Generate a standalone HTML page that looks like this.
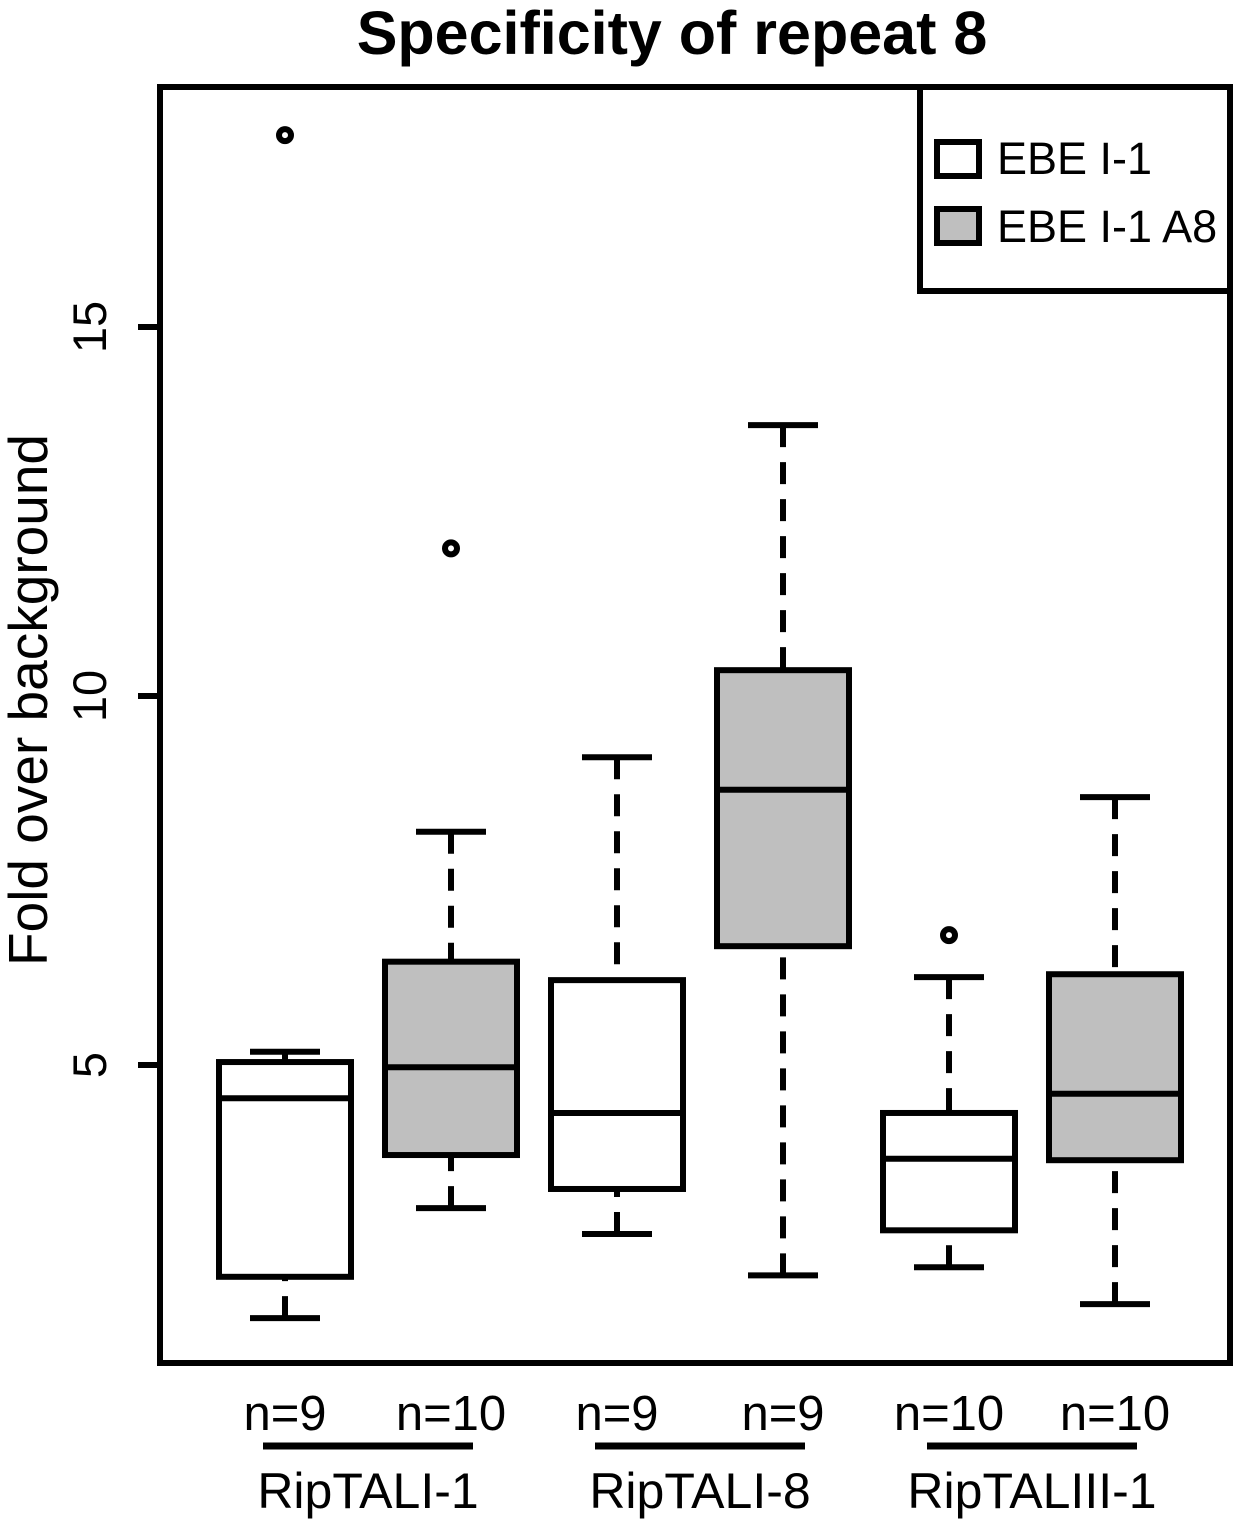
<!DOCTYPE html>
<html><head><meta charset="utf-8"><style>
body{margin:0;background:#fff;}
svg{display:block;font-family:"Liberation Sans",Arial,sans-serif;}
</style></head><body>
<svg id="chart" width="1250" height="1525" viewBox="0 0 1250 1525">
<text x="672" y="54" text-anchor="middle" font-size="61" font-weight="bold">Specificity of repeat 8</text>
<rect x="160" y="87" width="1070" height="1276" fill="none" stroke="#000" stroke-width="6"/>
<g id="yaxis"></g>
<text transform="translate(47,700) rotate(-90)" text-anchor="middle" font-size="55">Fold over background</text>
<g id="boxes"></g>
<g id="xlabels"></g>
<g>
<rect x="920" y="87" width="310" height="204" fill="#fff" stroke="#000" stroke-width="6"/>
<rect x="937" y="142" width="42" height="34" fill="#fff" stroke="#000" stroke-width="6"/>
<text x="997" y="174" font-size="45">EBE I-1</text>
<rect x="937" y="209" width="42" height="34" fill="#bfbfbf" stroke="#000" stroke-width="6"/>
<text x="997" y="242" font-size="45">EBE I-1 A8</text>
</g>
</svg>
<script>
const yTicks=[5,10,15];
const nLabels=["n=9","n=10","n=9","n=9","n=10","n=10"];
const groups=["RipTALI-1","RipTALI-8","RipTALIII-1"];
const lows=[1.57,3.06,2.71,2.15,2.26,1.76];
const q1s=[2.13,3.78,3.32,6.61,2.76,3.71];
const medians=[4.55,4.97,4.35,8.73,3.73,4.61];
const q3s=[5.04,6.40,6.15,10.35,4.35,6.23];
const highs=[5.18,8.16,9.17,13.67,6.19,8.63];
const outliers=[[17.6],[12.0],[],[],[6.76],[]];
const fills=["#fff","#bfbfbf","#fff","#bfbfbf","#fff","#bfbfbf"];
const NS="http://www.w3.org/2000/svg";
function y(v){return 1065-(v-5)*73.8;}
function x(i){return 285+i*166;}
function mk(parent,tag,attrs){const e=document.createElementNS(NS,tag);for(const k in attrs)e.setAttribute(k,attrs[k]);parent.appendChild(e);return e;}
const ya=document.getElementById('yaxis');
yTicks.forEach(t=>{
 const l=mk(ya,'line',{x1:138,x2:160,y1:y(t),y2:y(t),stroke:'#000','stroke-width':6});
 
 
 const tx=mk(ya,'text',{transform:`translate(106,${y(t)}) rotate(-90)`,'text-anchor':'middle','font-size':47});
 tx.textContent=t;
 
 
});
const bg=document.getElementById('boxes');
const hw=66,cap=35;
lows.forEach((lo,i)=>{
 const cx=x(i);
 const g=mk(bg,'g',{});
 
 
 const st={stroke:'#000','stroke-width':6,fill:'none'};
 const w1=mk(g,'line',Object.assign({x1:cx,x2:cx,y1:y(lo),y2:y(q1s[i]),'stroke-dasharray':'22,15'},st));
 
 
 const w2=mk(g,'line',Object.assign({x1:cx,x2:cx,y1:y(highs[i]),y2:y(q3s[i]),'stroke-dasharray':'22,15'},st));
 
 
 const c1=mk(g,'line',Object.assign({x1:cx-cap,x2:cx+cap,y1:y(lo),y2:y(lo)},st));
 
 
 const c2=mk(g,'line',Object.assign({x1:cx-cap,x2:cx+cap,y1:y(highs[i]),y2:y(highs[i])},st));
 
 
 const r=mk(g,'rect',{x:cx-hw,y:y(q3s[i]),width:2*hw,height:y(q1s[i])-y(q3s[i]),fill:fills[i],stroke:'#000','stroke-width':6});
 
 
 const m=mk(g,'line',Object.assign({x1:cx-hw,x2:cx+hw,y1:y(medians[i]),y2:y(medians[i])},st));
 
 
 outliers[i].forEach(o=>{
  const c=mk(g,'circle',{cx:cx,cy:y(o),r:6,fill:'#fff',stroke:'#000','stroke-width':6});
  
  
 });
 const n=mk(document.getElementById('xlabels'),'text',{x:cx,y:1430,'text-anchor':'middle','font-size':49});
 n.textContent=nLabels[i];
 
 
});
const xl=document.getElementById('xlabels');
groups.forEach((gname,j)=>{
 const cx=(x(2*j)+x(2*j+1))/2;
 const l=mk(xl,'line',{x1:cx-105,x2:cx+105,y1:1446,y2:1446,stroke:'#000','stroke-width':7});
 
 
 const t=mk(xl,'text',{x:cx,y:1508,'text-anchor':'middle','font-size':50});
 t.textContent=gname;
 
 
});
</script>
</body></html>
